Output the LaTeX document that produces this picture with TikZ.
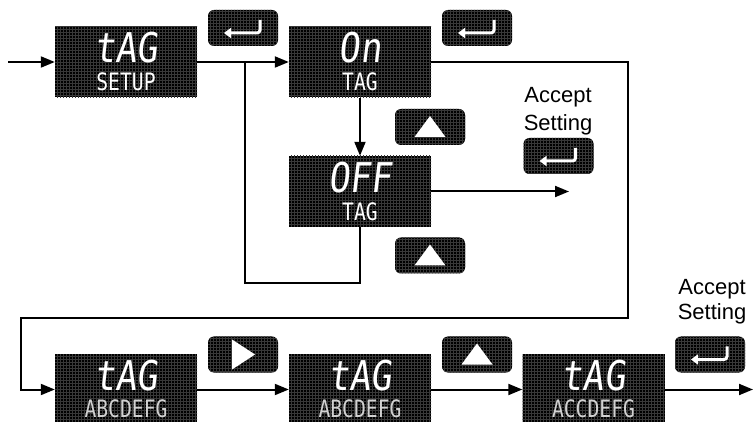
\documentclass[tikz,border=0pt]{standalone}
\usepackage{fontspec}
\setmainfont{Liberation Sans}
\newfontfamily\segtop[FakeStretch=0.86,FakeSlant=0.12]{DejaVu Sans Mono}
\newfontfamily\segbot[FakeStretch=0.82]{DejaVu Sans Mono}
\usetikzlibrary{arrows.meta,patterns}
\tikzset{
  conn/.style={line width=2pt},
  arr/.style={conn,-{Triangle[length=14pt,width=11pt]}},
  display/.style={preaction={fill=black},pattern=grid,pattern color=black!78,
    minimum width=142pt,minimum height=71pt,inner sep=0pt},
  btnbox/.style={preaction={fill=black},pattern=grid,pattern color=black!78,
    rounded corners=6pt,minimum width=70pt,minimum height=36pt,inner sep=0pt},
  toptxt/.style={anchor=base,inner sep=0pt,text=white,font=\segtop\fontsize{41}{41}\selectfont},
  bottxt/.style={anchor=base,inner sep=0pt,text=white,font=\segbot\fontsize{24}{24}\selectfont},
  botgray/.style={bottxt,text=white!82!black},
  accept/.style={anchor=north,inner sep=0pt,align=center},
  enterbtn/.pic={
    \node[btnbox] (-b) at (0,0) {};
    \draw[white,line width=3pt,rounded corners=3pt,-{Triangle[length=7pt,width=10pt]}]
      (17,-8) -- (17,5) -- (-19,5);
  },
  upbtn/.pic={
    \node[btnbox] (-b) at (0,0) {};
    \fill[white] (0,-11) -- (15.5,10) -- (-15.5,10) -- cycle;
  },
  playbtn/.pic={
    \node[btnbox] (-b) at (0,0) {};
    \fill[white] (-11,-15) -- (12,0) -- (-11,15) -- cycle;
  }
}
\begin{document}
\begin{tikzpicture}[x=1pt,y=-1pt]
\useasboundingbox (0,0) rectangle (753,422);

% displays
\node[display] (d1) at (126,62) {};
\node[display] (d2) at (360,62) {};
\node[display] (d3) at (360,191.5) {};
\node[display] (d4) at (126,389.5) {};
\node[display] (d5) at (360,389.5) {};
\node[display] (d6) at (593.5,389.5) {};

\node[toptxt] (d1t) at ([yshift=-1pt]d1.center) {tAG};
\node[bottxt] (d1s) at ([yshift=-29pt]d1.center) {SETUP};
\node[toptxt] (d2t) at ([yshift=-1pt]d2.center) {On};
\node[bottxt] (d2s) at ([yshift=-29pt]d2.center) {TAG};
\node[toptxt] (d3t) at ([yshift=-1pt]d3.center) {OFF};
\node[bottxt] (d3s) at ([yshift=-29pt]d3.center) {TAG};
\node[toptxt] (d4t) at ([yshift=-1pt]d4.center) {tAG};
\node[botgray] (d4s) at ([yshift=-27.5pt]d4.center) {ABCDEFG};
\node[toptxt] (d5t) at ([yshift=-1pt]d5.center) {tAG};
\node[botgray] (d5s) at ([yshift=-27.5pt]d5.center) {ABCDEFG};
\node[toptxt] (d6t) at ([yshift=-1pt]d6.center) {tAG};
\node[botgray] (d6s) at ([yshift=-27.5pt]d6.center) {ACCDEFG};

% buttons
\pic (be1) at (243,28) {enterbtn};
\pic (be2) at (477,28) {enterbtn};
\pic (bu1) at (430,127) {upbtn};
\pic (be3) at (558.5,156) {enterbtn};
\pic (bu2) at (430,255.5) {upbtn};
\pic (bp1) at (243,354.5) {playbtn};
\pic (bu3) at (477,354.5) {upbtn};
\pic (be4) at (710,354.5) {enterbtn};

% labels
\node[accept,font=\fontsize{22}{28}\selectfont] (acc1) at (558,87) {Accept\\Setting};
\node[accept,font=\fontsize{22}{25}\selectfont] (acc2) at (712,279) {Accept\\Setting};

% coordinates
\coordinate (in) at (8,62);
\coordinate (b1) at (245,62);
\coordinate (b2) at (245,283);
\coordinate (c1) at (628,62);
\coordinate (c2) at (628,318);
\coordinate (c3) at (21,318);
\coordinate (c4) at (21,389.5);
\coordinate (o1) at (569,191.5);
\coordinate (o2) at (753,389.5);

% connectors
\draw[arr] (in) -- (d1.west);
\draw[arr] (d1.east) -- (d2.west);
\draw[conn] (b1) -- (b2) -| (d3.south);
\draw[arr] (d2.south) -- (d3.north);
\draw[arr] (d2.east) -- (c1) -- (c2) -- (c3) -- (c4) -- (d4.west);
\draw[arr] (d3.east) -- (o1);
\draw[arr] (d4.east) -- (d5.west);
\draw[arr] (d5.east) -- (d6.west);
\draw[arr] (d6.east) -- (o2);
\end{tikzpicture}
\end{document}
